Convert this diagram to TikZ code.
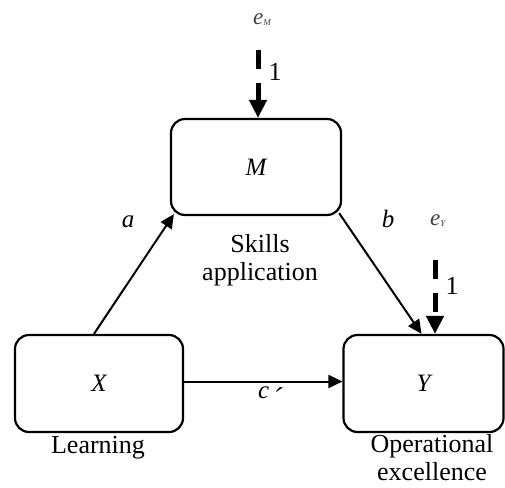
\documentclass[tikz,border=0pt]{standalone}
\usepackage{fontspec}
\setmainfont{Liberation Serif}
\usetikzlibrary{arrows.meta,calc}
\begin{document}
\begin{tikzpicture}[x=1pt,y=-1pt,
  box/.style={draw,line width=2.2pt,rounded corners=14pt,inner sep=0pt,font=\fontsize{25}{28}\selectfont\itshape},
  arr/.style={line width=2pt,-{Triangle[length=14pt,width=13pt]}},
  errarr/.style={line width=5pt,dash pattern=on 19pt off 14pt,-{Triangle[length=18pt,width=17pt]}},
  lbl/.style={inner sep=0pt,font=\fontsize{26}{28}\selectfont,align=center},
  ilbl/.style={inner sep=0pt,font=\fontsize{25}{28}\selectfont\itshape},
  elbl/.style={inner sep=0pt,text=black!75,font=\fontsize{23}{26}\selectfont\itshape}]
\useasboundingbox (0,0) rectangle (505,487);
% boxes
\node[box,minimum width=170pt,minimum height=96pt] (M) at (256,167) {M};
\node[box,minimum width=168pt,minimum height=97pt] (X) at (99,383.5) {X};
\node[box,minimum width=160pt,minimum height=97pt] (Y) at (423.5,383.5) {Y};
% error terms
\coordinate (eMs) at (258,50);
\coordinate (eYs) at (435,260);
\draw[errarr] (eMs) -- ($(M.north)+(2,0)$);
\draw[errarr] (eYs) -- (eYs |- Y.north);
% paths
\draw[arr] ($(X.north)+(-5,0)$) -- ($(M.south west)+(4,-2)$);
\draw[arr] ($(M.south east)+(-3,-3)$) -- ($(Y.north)+(-2,0)$);
\draw[arr] ($(X.east)+(0,-2)$) -- ($(Y.west)+(0,-2)$);
% labels
\node[elbl,anchor=base west] (eM) at (253,25) {e\raisebox{-1pt}{\fontsize{9}{9}\selectfont M}};
\node[elbl,anchor=base west] (eY) at (430,225) {e\raisebox{-1pt}{\fontsize{9}{9}\selectfont Y}};
\node[lbl,anchor=base] (oneM) at (275,80) {1};
\node[lbl,anchor=base] (oneY) at (452,294) {1};
\node[ilbl,anchor=base] (la) at (128,227) {a};
\node[ilbl,anchor=base] (lb) at (388,227) {b};
\node[ilbl,anchor=base west] (lc) at (258,398) {c\kern3pt\raisebox{-10pt}{\fontsize{30}{30}\selectfont´}};
\node[lbl,anchor=base] (skills) at (260,280) {Skills\\application};
\node[lbl,anchor=base] (learn) at (98,453) {Learning};
\node[lbl,anchor=base] (opex) at (432,480) {Operational\\excellence};
\end{tikzpicture}
\end{document}
